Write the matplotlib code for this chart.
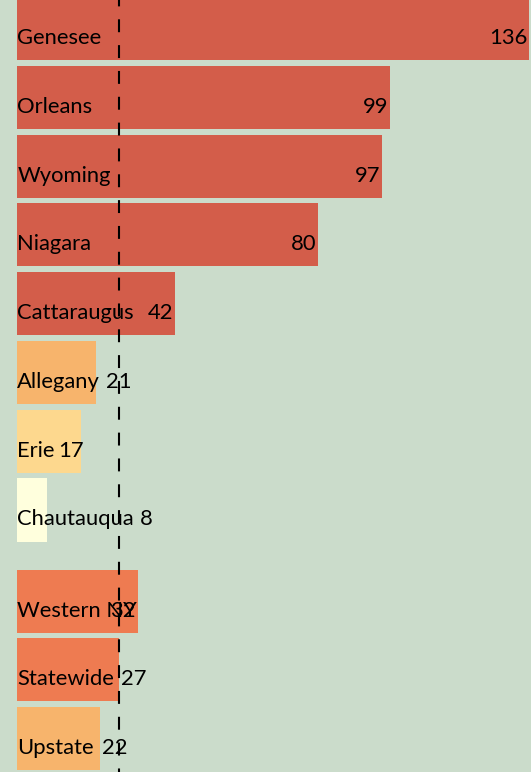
import numpy as np
import matplotlib
matplotlib.use('Agg')
import matplotlib.pyplot as plt
from matplotlib.transforms import ScaledTranslation

# Data
counties = ['Genesee', 'Orleans', 'Wyoming', 'Niagara', 'Cattaraugus',
            'Allegany', 'Erie', 'Chautauqua']
county_vals = [136, 99, 97, 80, 42, 21, 17, 8]
regions = ['Western NY', 'Statewide', 'Upstate']
region_vals = [32, 27, 22]
reference_name = 'Statewide'

# Colours by value bin
BIN_EDGES = [10, 20, 25, 40]
BIN_COLORS = ['#ffffdd', '#fdd88e', '#f7b46c', '#ee7b51', '#d35d4a']
BG = '#cbdccb'

GROUP_GAP = 0.325
BAR_H = 0.917

names = counties + regions
values = np.array(county_vals + region_vals)
ypos = np.concatenate([np.arange(len(counties)),
                       np.arange(len(regions)) + len(counties) + GROUP_GAP])
colors = [BIN_COLORS[i] for i in np.digitize(values, BIN_EDGES)]

W, H, DPI = 531, 772, 100
fig = plt.figure(figsize=(W / DPI, H / DPI), dpi=DPI, facecolor=BG)
ax = fig.add_axes([0, 0, 1, 1])
ax.set_facecolor(BG)
for s in ax.spines.values():
    s.set_visible(False)
ax.set_xticks([])
ax.set_yticks([])

ax.barh(ypos, values, height=BAR_H, color=colors, linewidth=0, zorder=1)
ax.set_xlim(-4.6, 136.5)
ax.set_ylim(ypos[-1] + 0.485, -0.415)

# dashed reference line at the statewide rate
ref_val = values[names.index(reference_name)]
ax.axvline(ref_val, color='black', lw=1.5, linestyle=(4.5, (6.2, 6.2)), zorder=3)

FONT = dict(family='Lato', fontsize=15.8, color='black')
down = ScaledTranslation(0, -15.5 / DPI, fig.dpi_scale_trans)

renderer = fig.canvas.get_renderer()
inv = ax.transData.inverted()
px = lambda p: inv.transform((p, 0))[0] - inv.transform((0, 0))[0]

for name, val, y in zip(names, values, ypos):
    t = ax.text(0, y, name, ha='left', va='baseline', zorder=4,
                transform=ax.transData + down, **FONT)
    name_end = inv.transform((t.get_window_extent(renderer).x1, 0))[0]
    v = ax.text(0, y, str(val), ha='left', va='baseline', zorder=4,
                transform=ax.transData + down, **FONT)
    vw = px(v.get_window_extent(renderer).width)
    inside_start = val - px(2) - vw
    if val >= 30 or inside_start >= name_end - px(6):
        v.set_x(max(inside_start, name_end + px(3)) if val < 30 else inside_start)
    else:
        v.set_x(max(val + px(2), name_end + px(6)))

fig.savefig('out.png', dpi=DPI, facecolor=BG)
